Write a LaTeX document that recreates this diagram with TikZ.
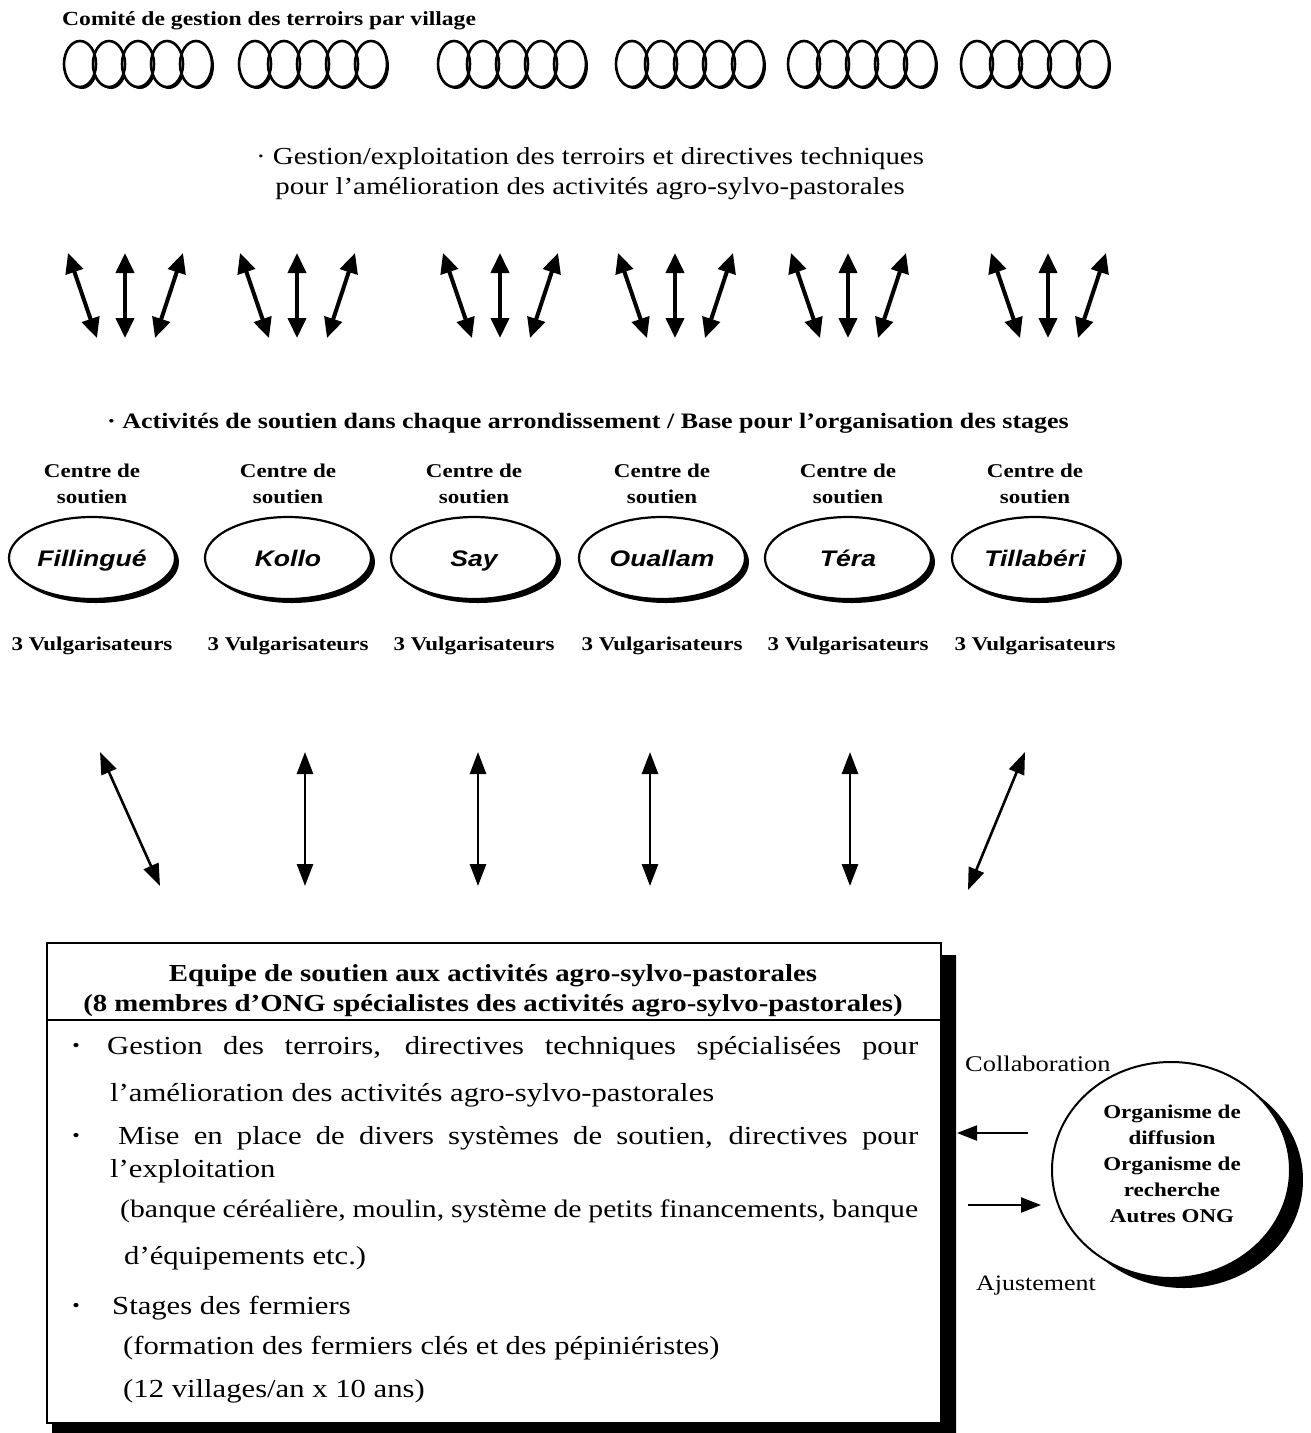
\documentclass[tikz,border=0pt]{standalone}
\usepackage{fontspec}
\setmainfont{Liberation Serif}[FakeStretch=1.18]
\newfontfamily\placefont{Liberation Sans}[FakeStretch=1.18]
\usetikzlibrary{arrows.meta,positioning,shapes.geometric}

\tikzset{
  lbl/.style={inner sep=0pt, font=\fontsize{#1}{#1}\selectfont},
  lblb/.style={inner sep=0pt, font=\fontsize{#1}{#1}\selectfont\bfseries},
  twoline/.style={inner sep=0pt, align=center, font=\fontsize{19.5}{26}\selectfont\bfseries},
  centre/.style={ellipse, draw, fill=white, line width=2.2pt, inner sep=0pt, text height=21pt, text depth=5pt,
    minimum width=166pt, minimum height=82pt, font=\placefont\fontsize{22.5}{22.5}\selectfont\bfseries\itshape},
  bigarrow/.style={line width=4pt, {Triangle[length=20pt,width=18pt]}-{Triangle[length=20pt,width=18pt]}},
  longarrow/.style={line width=2.6pt, {Triangle[length=22pt,width=16pt]}-{Triangle[length=22pt,width=16pt]}},
  sidearrow/.style={line width=2.2pt, -{Triangle[length=20pt,width=15pt]}},
  body/.style={inner sep=0pt, anchor=base west, font=\fontsize{26}{26}\selectfont},
  puce/.style={inner sep=0pt, anchor=base, font=\fontsize{18}{18}\selectfont}
}

\begin{document}
\begin{tikzpicture}[x=1pt,y=-1pt]
\useasboundingbox (0,0) rectangle (1311,1433);

% comites de village
\node[lblb=20, anchor=base west] (comite) at (62,25) {Comité de gestion des terroirs par village};
\foreach \gx in {63,238,437,615,787,960}{
  \foreach \k in {0,...,4} \fill ({\gx+19+29*\k},66) ellipse[x radius=16pt, y radius=23pt];
  \foreach \k in {0,...,4} \fill[white] ({\gx+17+29*\k},64) ellipse[x radius=16pt, y radius=23pt];
  \foreach \k in {0,...,4} \draw[line width=2.6pt] ({\gx+17+29*\k},64) ellipse[x radius=16pt, y radius=23pt];
}

\node[inner sep=0pt, align=center, font=\fontsize{24.5}{30}\selectfont] (gestion) at (590,174)
  {· Gestion/exploitation des terroirs et directives techniques\\pour l'amélioration des activités agro-sylvo-pastorales};

% fleches vers les villages
\foreach \cx [count=\i] in {125,297,500,675,848,1048}{
  \coordinate (ua\i) at (\cx-57,253);
  \coordinate (ub\i) at (\cx,253);
  \coordinate (uc\i) at (\cx+58,253);
  \coordinate (da\i) at (\cx-28,338);
  \coordinate (db\i) at (\cx,338);
  \coordinate (dc\i) at (\cx+30,338);
  \draw[bigarrow] (ua\i) -- (da\i);
  \draw[bigarrow] (ub\i) -- (db\i);
  \draw[bigarrow] (uc\i) -- (dc\i);
}

\node[lblb=22, anchor=base] (soutien) at (588,428)
  {· Activités de soutien dans chaque arrondissement / Base pour l'organisation des stages};

% centres de soutien
\foreach \cx/\nm/\id in {92/Fillingué/fil, 288/Kollo/kol, 474/Say/say, 662/Ouallam/oua, 848/Téra/ter, 1035/Tillabéri/til}{
  \fill ({\cx+4},562) ellipse[x radius=83pt, y radius=41pt];
  \node[centre] (\id) at (\cx,558) {\nm};
  \node[twoline, above=12pt of \id] (\id-c) {Centre de\\soutien};
  \node[lblb=19.5, below=37pt of \id] (\id-v) {3 Vulgarisateurs};
}

% fleches vers l'equipe
\foreach \xa/\ya/\xb/\yb [count=\i] in {100/752/160/886, 305/752/305/886, 478/752/478/886,
    650/752/650/886, 850/752/850/886, 1025/752/968/890}{
  \coordinate (la\i) at (\xa,\ya);
  \coordinate (lb\i) at (\xb,\yb);
  \draw[longarrow] (la\i) -- (lb\i);
}

% equipe de soutien
\fill (940,955) -- (956,955) -- (956,1433) -- (52,1433) -- (52,1422) -- (940,1422) -- cycle;
\node[draw, line width=1.6pt, fill=white, anchor=north west, minimum width=894pt, minimum height=480pt] (equipe) at (46,942) {};
\draw[line width=1.6pt] (46,1020) -- (940,1020);
\node[inner sep=0pt, align=center, font=\fontsize{24.4}{30}\selectfont\bfseries] (titre) at (493,991)
  {Equipe de soutien aux activités agro-sylvo-pastorales\\(8 membres d'ONG spécialistes des activités agro-sylvo-pastorales)};

\node[puce] (p1) at (76,1051) {•};
\node[body] (l1) at (107,1054) {\makebox[811pt][s]{Gestion des terroirs, directives techniques spécialisées pour}};
\node[body] (l2) at (110,1101) {l'amélioration des activités agro-sylvo-pastorales};
\node[puce] (p2) at (76,1141) {•};
\node[body] (l3) at (118,1144) {\makebox[800pt][s]{Mise en place de divers systèmes de soutien, directives pour}};
\node[body] (l4) at (110,1177) {l'exploitation};
\node[body, font=\fontsize{25.2}{26}\selectfont] (l5) at (120,1217) {\makebox[798pt][s]{(banque céréalière, moulin, système de petits financements, banque}};
\node[body] (l6) at (124,1264) {d'équipements etc.)};
\node[puce] (p3) at (76,1311) {•};
\node[body] (l7) at (112,1314) {Stages des fermiers};
\node[body] (l8) at (123,1354) {(formation des fermiers clés et des pépiniéristes)};
\node[body] (l9) at (123,1397) {(12 villages/an x 10 ans)};

% organismes partenaires
\fill (1184,1180) ellipse[x radius=119pt, y radius=108pt];
\node[ellipse, draw, fill=white, line width=2pt, inner sep=0pt, minimum width=238pt, minimum height=216pt] (orga) at (1171,1170) {};
\node[inner sep=0pt, align=center, font=\fontsize{19.5}{26}\selectfont\bfseries] (orga-t) at (1172,1164)
  {Organisme de\\diffusion\\Organisme de\\recherche\\Autres ONG};
\node[lbl=22.4, anchor=base west] (collab) at (965,1071) {Collaboration};
\node[lbl=22, anchor=base west] (ajust) at (976,1290) {Ajustement};
\coordinate (cl1) at (1028,1133);
\coordinate (cl2) at (957,1133);
\coordinate (aj1) at (968,1205);
\coordinate (aj2) at (1041,1205);
\draw[sidearrow] (cl1) -- (cl2);
\draw[sidearrow] (aj1) -- (aj2);
\end{tikzpicture}
\end{document}
